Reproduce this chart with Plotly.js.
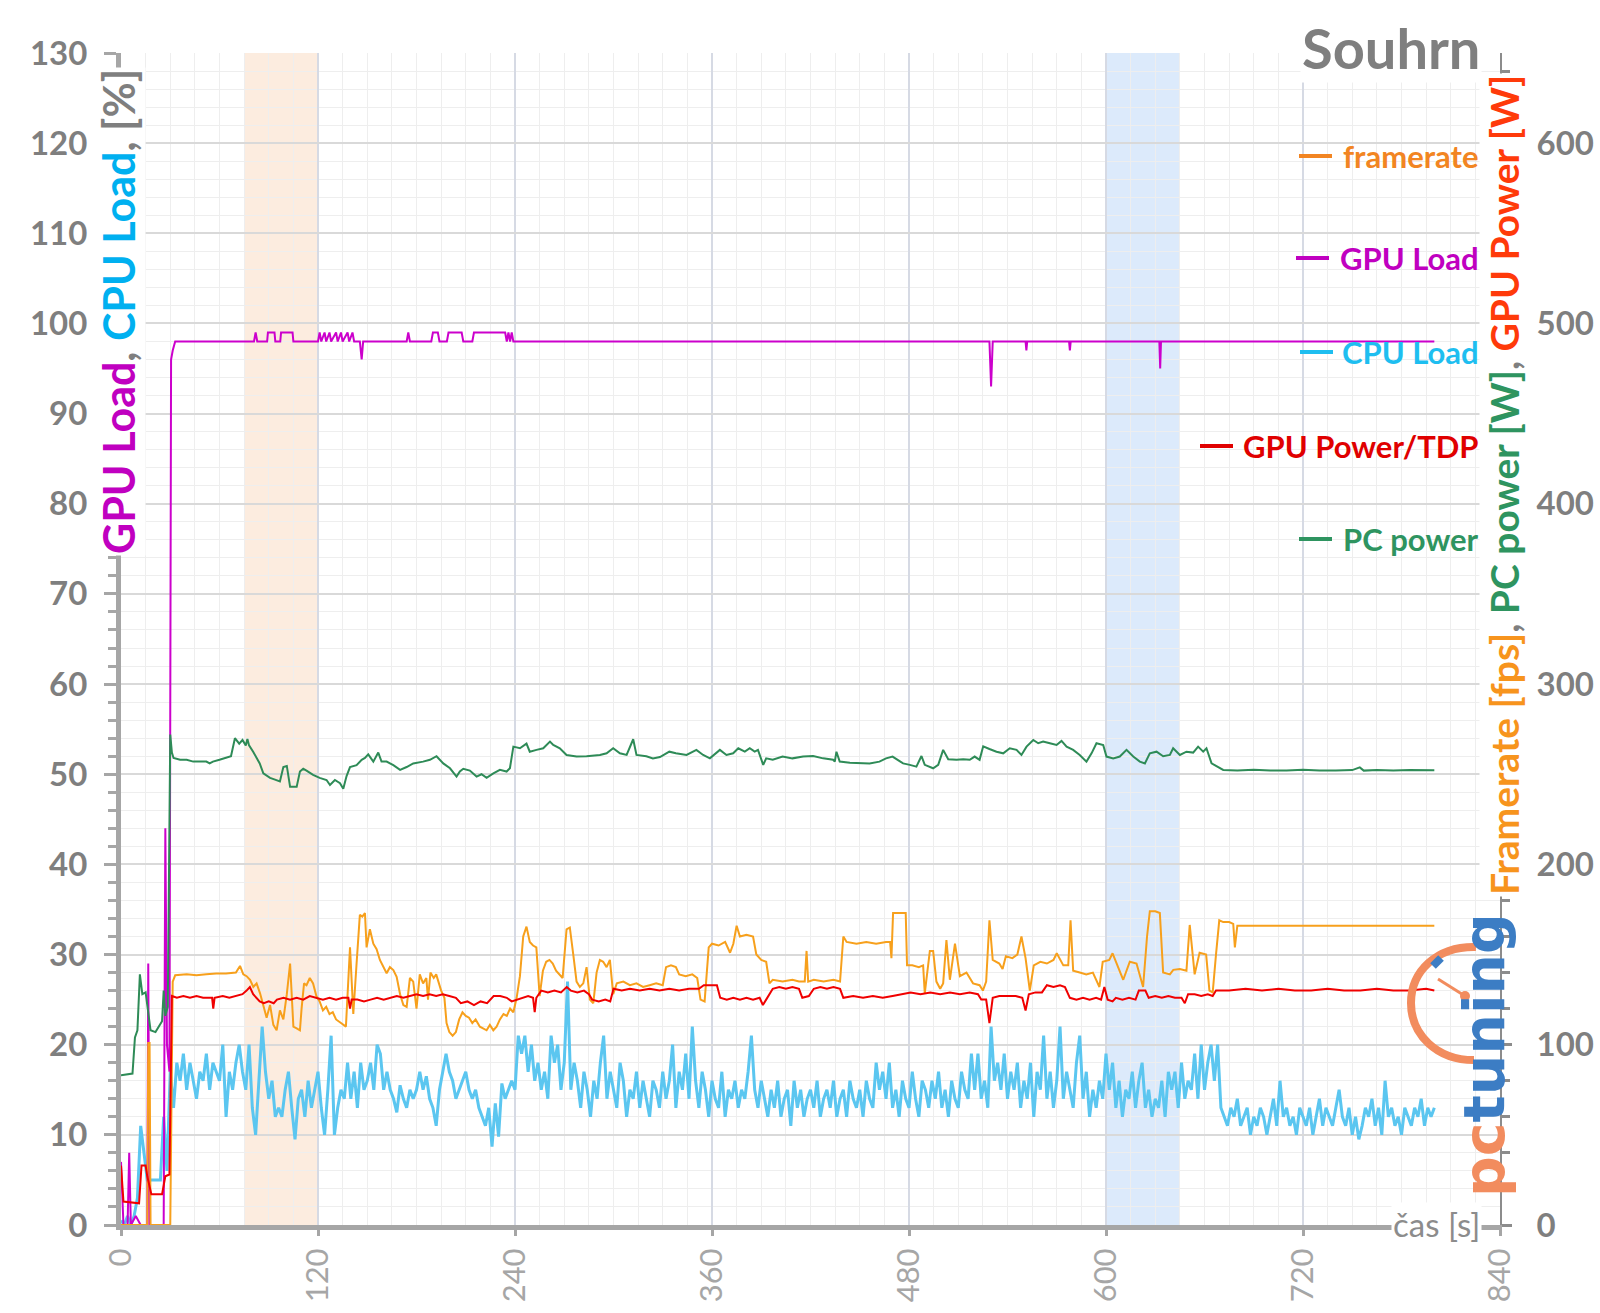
<!DOCTYPE html>
<html><head><meta charset="utf-8">
<script src="https://cdn.plot.ly/plotly-3.0.1.min.js"></script>
<style>html,body{margin:0;padding:0;background:#fff}</style>
</head><body><div id="chart" style="width:1600px;height:1313px"></div>
<script>
// ---------------- DATA ----------------
// x tick labels (s)
const xTicks = [0, 120, 240, 360, 480, 600, 720, 840];
// highlighted intervals (s)
const bandOrange = [75, 120];
const bandBlue = [600, 645];

// GPU Load [%]  [time s, value]
const gpuLoad = [[0,7],[1.5,0],[4,0],[5,8],[6,0],[9,1],[12,0],[16,0],[16.6,29],[17.4,0],[26,0],[27,44],[28,20],[29.5,17],[30.5,96],[31.5,97],[33,98],
[81,98],[82,99],[83,98],[89,98],[89.5,99],[93.5,99],[94,98],[97,98],[97.5,99],[104.5,99],[105,98],[120,98],[121,99],[122,98],[124,99],[125,98],[127,99],[128,98],
[131,99],[132,98],[134,99],[135,98],[138,99],[139,98],[141,99],[142,98],[145.5,98],[146.6,96],[147.5,98],[174,98],[175,99],[176,98],[189,98],[190,99],[193,99],[194,98],
[198.5,98],[199.5,99],[207.5,99],[208.5,98],[214,98],[215,99],[234,99],[235,98],[236,99],[237,98],[238,99],[239,98],
[529,98],[530,93],[531,98],[551,98],[551.5,97],[552,98],[577.5,98],[578,97],[578.5,98],[632.5,98],[633,95],[633.5,98],[800,98]];

// CPU Load [%], one value every 2 s starting at 0 s
const cpuStart = 0, cpuStep = 2;
const cpuLoad = [0.5,0,1,0,1,3,11,8,5,5,5,5,5,12,6,
17,13,18,16,19,15,18,16,14,17,
16,19,15,18,17,16,20,12,17,15,
18,20,17,15,20,13,10,16,22,17,
14,16,12,13,12,15,17,13,9.5,14,
15,12,16,13,15,17,13,10,15,21,
10,13,15,14,18,14,17,13,18,15,
16,18,15,20,19,15,17,15,14,12.5,
15.5,14,13,15,14,15,17,15,16.5,14,13,11,15,17,19,
17,16,14,15,16,17,15,14,15,13,12,11,13,8.7,13.5,9.8,15.7,14,15,16,
15,21,19,21,17,20,16,18,15,17,
14,21,18,20,15,18,27,15,18,16,
13,17,15,12,16,14,18,21,14,17,
15,13,18,16,12,15,14,17,13,16,
14,12,16,15,13,17,14,16,20,13,
17,15,19,14,22,16,13,17,15,12,
16,14,13,17,12,15,14,16,13,15,
14,17,21,15,13,16,14,12,15,13,
16,12,14,15,11,16,13,15,12,14,
15,13,16,12,14,15,13,16,12,14,
15,12,16,14,13,15,12,16,14,13,
18,15,17,14,18,13,15,12,16,14,
13,17,14,12,16,15,13,16,14,17,
13,15,12,16,14,13,17,15,14,19,
15,19,14,16,13,22,16,18,15,19,
14,17,15,18,13,16,14,18,12,17,
15,21,14,17,13,16,22,14,17,15,
13,18,21,14,17,12,15,13,16,14,
19,15,18,13,16,12,15,14,17,13,
16,18,13,15,12,14,13,16,12,17,
15,17,13,18,14,16,15,19,14,20,
15,18,20,16,20,13,12,11,13,12,
14,11,12,13,10,12,11,13,12,10,
12,14,11,16,12,13,11,12,10,13,
12,11,13,10,12,14,11,13,12,11,
13,15,12,11,13,10,12,9.5,11,13,
12,14,11,13,10,16,12,13,11,12,
10,13,12,11,13,12,14,11,13,12,13];

// GPU Power [W]  [time s, value]
const gpuPower = [[0,33],[1.5,13],[11,12],[12.5,33],[15,33],[16,27],[18.5,17],[25,17],[27,27],[29.5,28],[31,127],
[34,126],[38,127],[42,126],[46,127],[50,126],[55.5,126],[56.2,120],[57,126],[62,127],[66,126],[70,127],[74,128],[76.5,130],[78.5,132],[80.5,128],[82.5,126],[84.5,124],
[87,123],[90,124],[93,123],[95,125],[99,126],[103,125],[107,126],[111,125],[115,127],[119,126],[123,125],[127,126],[131,125],[135,126],[138.5,126],[139.5,120],[140.5,125],
[144,125],[148,124],[152,125],[156,126],[160,125],[164,126],[168,127],[172,126],[176,127],[180,128],[184,127],[188,128],[192,127],[196,128],[200,127],[204,126],[207,123],
[211,124],[215,122],[219,124],[223,123],[227,127],[231,127],[235,126],[238,124],[241,125],[244,126],[248,127],[251,126],[252,118],[253,126],[256,130],[260,129],[264,130],
[268,129],[271.5,132],[274,130],[278,129],[282,130],[285,128],[287,125],[291,124],[295,125],[298,124],[300,131],[305,130],[310,131],[316,130],[322,131],[328,130],[334,131],
[340,130],[346,131],[352,131],[355,133],[359,133],[363,133],[365,126],[369,125],[373,126],[377,125],[381,126],[385,125],[389,126],[391,122],[393,125],[397,131],[401,132],
[405,131],[409,132],[413,131],[415,126],[419,127],[422,131],[426,132],[430,131],[434,132],[438,131],[440,126],[446,127],[452,126],[458,127],[464,126],[470,127],[475,128],
[481,129],[487,128],[493,129],[499,128],[505,129],[511,128],[517,129],[522,128],[524,125],[527,125],[529,112],[531,126],[535,127],[540,127],[545,127],[549,126],[551,119],
[553,128],[557,129],[561,129],[564,133],[568,132],[572,133],[575,132],[578,126],[582,125],[586,126],[590,125],[594,126],[597,125],[599,132],[601,125],[604,124],[606,126],
[610,125],[614,126],[618,125],[620,130],[624,130],[626,126],[630,127],[634,126],[638,127],[642,126],[646,126],[648,123],[650,128],[654,128],[658,127],[662,128],[665,127],
[667,130],[675,130],[685,131],[695,130],[705,131],[715,130],[725,130],[735,131],[745,130],[755,130],[765,131],[775,130],[785,130],[795,131],[800,130]];

// PC power [W]  [time s, value]
const pcPower = [[0,83],[7,84],[8.5,104],[10,108],[11.5,139],[13,128],[15,129],[16.5,118],[18,108],[21,107],[23,110],[25,113],[26,130],[27,116],[28.5,121],[30,272],[31,262],
[32,259],[36,258],[40,258],[44,257],[48,257],[52,257],[54,256],[56,257],[60,258],[64,259],[67,260],[69.4,270],[72,267],[74,269],[76,266],[77,269.5],[78,266],[80.5,262.5],
[84.5,256],[86.7,250.5],[90.8,248],[93.8,247],[96.8,246],[98.9,254],[101,254.6],[103,243],[107,243],[109,251.5],[111,253],[113,252],[117,249.6],[121,248],[125.2,246.8],
[127.3,244],[130.3,246.8],[133.4,245],[135.4,242],[137.4,249],[139.5,254],[143.5,255],[146.6,258],[148.6,259],[150.6,261],[153.7,257],[156.7,262],[158.7,257],[161.8,257],
[165.9,255],[170,252.4],[174,254],[178,256],[184,257],[188.2,258],[192.2,260],[196.3,256],[200.4,253.3],[204.4,248.7],[206.4,251.5],[208.5,253],[212.5,252],[216.6,248.7],
[219.6,250],[222.7,248],[226.8,250.5],[230.8,252.4],[234.9,251.5],[236.9,253.3],[239,265.3],[243,264.4],[247,267],[249,262.5],[253.1,263.5],[257.2,264.4],[261.3,268.1],
[263.3,266.2],[267.3,264.4],[271.4,260.7],[277.5,259.8],[283.6,260],[291.7,260.7],[295.8,261.6],[299.8,264.4],[303.9,261.6],[308,260.7],[312,269.4],[314,260.7],[320,260],
[324,258.8],[328.3,259.5],[334,262.5],[338,261.6],[344.5,260.7],[350.5,263.5],[354.6,260.7],[358.7,258.8],[364.8,263.5],[368.8,260.7],[372.9,261.6],[376,264.4],[380,262.5],
[383,264.4],[386,262.5],[388,263.5],[391.2,255.2],[393,258.8],[397,258],[403,259.8],[409,258.8],[415.5,259.8],[421.6,260.1],[427.7,258.8],[433.8,258],[434.8,257],
[435.8,262.5],[437.8,257],[444,256.4],[450,256.4],[456,256],[462,257],[466,258.8],[470,259.8],[473.4,258],[476.4,256],[480.5,255.2],[484.5,254.2],[487.6,260.1],[489.6,255.2],
[494.7,253.3],[497.8,255.2],[500.8,263.5],[503.9,258.3],[509,258],[513,258.3],[517,258],[520,259.8],[523,258],[525.2,265.5],[529,264],[533.3,262.5],[537.4,261.6],
[541.4,264.4],[545.5,263.5],[548.5,260.7],[551.6,265.3],[555.7,269],[558.7,267.2],[561.7,268.1],[565.8,267.2],[569.9,266.2],[572.9,268.5],[576,265.3],[580,263.5],
[584,260.7],[588.1,257],[591.2,261.6],[594.2,267.2],[598.3,266.2],[600.3,259.8],[604.4,258.8],[608.4,259.8],[612.5,263.5],[616.6,259.8],[620.6,257],[623.7,256],
[626.7,261.6],[630.8,262.5],[634.8,260],[638.9,260.7],[640.9,264.4],[645,260.7],[649,262.5],[653.1,262],[656.1,265.3],[659.2,262.5],[661.2,264.4],[664.3,256],[667.3,254.6],
[671.4,252.4],[680,252],[690,252.5],[700,252],[710,252],[720,252.5],[730,252],[740,252],[750,252.3],[754.6,253.8],[757,252],[765,252.3],[775,252],[785,252.3],[795,252],[800,252.2]];

// Framerate [fps]  [time s, value]
const framerate = [[0,0],[16,0],[16.6,101],[17.4,101],[18,0],[30,0],[31.5,135],[33,138.5],[40,139],[46,138.5],[52,139],[58,139.5],[64,139.5],[70,140],[72.5,143.7],[74.5,139],
[76.5,138],[78.6,136],[80.6,132],[82.6,134],[84.7,128.5],[86.7,121],[88.7,115],[90.8,122],[92.8,111],[94.8,108],[96.8,119],[98.9,114],[101,128],[103,145],[104,130],[105,110],
[107,109],[109,108],[110,120],[111.5,134],[113,133],[115,137],[117,134],[119,127],[121,124],[123,119],[125,121],[127,117],[129,118],[131,114],[134,112],[137,110],[139.5,154],
[141.5,117],[143.5,145],[145.5,172],[147,171],[148.6,173],[149.6,154],[151.6,164],[153.7,156],[155.7,153],[157.7,147],[159.8,143],[161.8,139.6],[163.8,143],[165.9,141.4],
[167.9,137.7],[170,128],[172,122],[174,121],[176,137],[178,135],[180,120],[182,139],[184,134],[186,137],[187,125],[188.5,140],[190.5,137],[192,139],[195,130],[197,126],
[198.3,112],[200,107],[202,105],[204,107],[206,114],[208,118],[210,116],[212,115],[214,112],[216,114],[218.6,110],[220.7,109],[222.7,108],[224.7,111],[226.8,108],[228.8,110],
[230.8,114],[233,117],[235,116],[237,120],[239,118],[241,126],[243,138],[245,160],[247,165.5],[249,157],[251,155],[253,154],[255,127],[257,141],[259,146],[261,147],[263,145],
[265,141],[267,139],[269,137],[271.4,164],[273.4,165],[275.5,150],[277.5,135],[279.5,132],[281.6,134],[283.6,143],[285.6,125],[287.7,123],[289.7,140],[291.7,147],[293.7,146],
[295.8,143],[297.8,147],[299.8,128],[302,134],[306,135],[310,133],[314,134],[318,132],[322,133],[326,134],[330,133],[332,143],[335,144],[338,143],[340,139],[344,138],[348,139],
[351,137],[353,125],[355.5,124],[358,154],[360,156],[364,155],[368,157],[371,151],[373,156],[375,166],[377,160],[381,161],[385,160],[387,150],[390,147],[393,146],[395,134],
[397,136],[403,135],[409,136],[413,135],[416.5,135],[417.6,152],[418.6,135],[422,136],[428,135],[434,136],[438,135],[440,160],[442,157],[448,156],[454,157],[460,156],[466,157],
[468.5,157],[469.3,148],[470.3,173],[474,173],[478,173],[478.8,144],[482,144],[486,143],[488.6,144],[489.6,128.5],[491,140],[492.7,152],[494.7,152],[496.7,135],[499,131],
[500.8,134],[502.8,158],[504.9,136],[508,156],[511,138],[515,140],[519,134],[523,133],[525,130],[527,135],[529,169],[531,147],[535,145],[537,142],[539,149],[543,148],[546,150],
[548.5,160],[551,148],[553.6,130],[556,144],[560,146],[564,145],[568,147],[570,150.7],[574,144],[577,144],[578.4,169],[580,141],[584,140],[588,139],[592,140],[596,132],
[598,146],[602,147],[604,150.7],[606,146],[610.5,136],[614.5,146],[618.6,145],[622.6,132],[625,160],[626.7,174],[630,174],[632.8,173],[634.8,140],[638.9,139],[641,141.5],
[645,142],[649,141],[651,166.4],[653,145],[654,139],[657,151],[661,150],[663,130],[665,129],[667,150],[669,169],[671.4,168],[675,168],[677.5,167],[678.5,154],[680,166],
[690,166],[700,166],[720,166],[740,166],[760,166],[780,166],[800,166]];

// ---------------- CHART ----------------
const W = 1600, H = 1313;
const L = 121, R = 1500, T = 53, B = 1225;
const px = x => (x - L) / (R - L);
const py = y => (B - y) / (B - T);

const col = {
  fps: '#F7A01C', gpuLoad: '#CC00CC', cpu: '#5BC6F0', gpuPow: '#F00000', pc: '#2E8B57',
  gray: '#7F7F7F', light: '#A6A6A6'
};

const xs = a => a.map(p => p[0]);
const ys = a => a.map(p => p[1]);

const traces = [
  {name: 'CPU Load', y: cpuLoad, x0: cpuStart, dx: cpuStep, yaxis: 'y', type: 'scatter', mode: 'lines',
   line: {color: col.cpu, width: 3}},
  {name: 'PC power', x: xs(pcPower), y: ys(pcPower), yaxis: 'y2', type: 'scatter', mode: 'lines',
   line: {color: col.pc, width: 2}},
  {name: 'framerate', x: xs(framerate), y: ys(framerate), yaxis: 'y2', type: 'scatter', mode: 'lines',
   line: {color: col.fps, width: 2}},
  {name: 'GPU Power/TDP', x: xs(gpuPower), y: ys(gpuPower), yaxis: 'y2', type: 'scatter', mode: 'lines',
   line: {color: col.gpuPow, width: 2}},
  {name: 'GPU Load', x: xs(gpuLoad), y: ys(gpuLoad), yaxis: 'y', type: 'scatter', mode: 'lines',
   line: {color: col.gpuLoad, width: 2}}
];

// gauge arc of the logo (decoration) in pixel space -> paper
const gc = {x: 1468, y: 1003, r: 57}, k = 0.5523;
const P = (x, y) => px(x).toFixed(5) + ',' + py(y).toFixed(5);
const arcPath = 'M ' + P(gc.x + 8, gc.y - gc.r + 1) +
  ' C ' + P(gc.x - k * gc.r, gc.y - gc.r) + ' ' + P(gc.x - gc.r, gc.y - k * gc.r) + ' ' + P(gc.x - gc.r, gc.y) +
  ' C ' + P(gc.x - gc.r, gc.y + k * gc.r) + ' ' + P(gc.x - k * gc.r, gc.y + gc.r) + ' ' + P(gc.x + 6, gc.y + gc.r);

// legend entries: label, colour, vertical centre and sample-line span (px)
const legendItems = [
  {text: 'framerate', color: '#F28522', y: 156, s0: 1299, s1: 1332},
  {text: 'GPU Load', color: '#C000C0', y: 258, s0: 1296, s1: 1329},
  {text: 'CPU Load', color: '#1EBEF0', y: 352, s0: 1300, s1: 1333},
  {text: 'GPU Power/TDP', color: '#E00000', y: 446, s0: 1200, s1: 1233},
  {text: 'PC power', color: '#2E9460', y: 539, s0: 1299, s1: 1332}
];

const shapes = [
  {type: 'rect', xref: 'x', yref: 'paper', x0: bandOrange[0], x1: bandOrange[1], y0: 0, y1: 1,
   fillcolor: '#FCECDF', line: {width: 0}, layer: 'below'},
  {type: 'rect', xref: 'x', yref: 'paper', x0: bandBlue[0], x1: bandBlue[1], y0: 0, y1: 1,
   fillcolor: '#DCEAFB', line: {width: 0}, layer: 'below'},
  {type: 'path', xref: 'paper', yref: 'paper', path: arcPath, line: {color: '#F28C5E', width: 8}, layer: 'above'},
  {type: 'line', xref: 'paper', yref: 'paper', x0: px(1433), y0: py(966), x1: px(1441), y1: py(958),
   line: {color: '#3C7DC4', width: 8}, layer: 'above'},
  {type: 'line', xref: 'paper', yref: 'paper', x0: px(1465), y0: py(996), x1: px(1438), y1: py(979),
   line: {color: '#F28C5E', width: 3}, layer: 'above'},
  {type: 'circle', xref: 'paper', yref: 'paper', x0: px(1460), y0: py(991), x1: px(1470), y1: py(1001),
   fillcolor: '#F28C5E', line: {width: 0}, layer: 'above'}
].concat(legendItems.map(it => ({
  type: 'line', xref: 'paper', yref: 'paper', x0: px(it.s0), x1: px(it.s1), y0: py(it.y), y1: py(it.y),
  line: {color: it.color, width: 4}, layer: 'above'
})));

const sp = (c, t) => '<span style="color:' + c + '">' + t + '</span>';

const annotations = [
  {text: '<b>Souhrn</b>', xref: 'paper', yref: 'paper', x: px(1482), y: py(47), xanchor: 'right', yanchor: 'middle',
   showarrow: false, bgcolor: '#FFFFFF', font: {family: 'Lato', size: 56, color: col.gray}},
  {text: '<b>' + sp('#C000C0', 'GPU Load') + sp(col.gray, ', ') + sp('#00B0F0', 'CPU Load') + sp(col.gray, ', [%]') + '</b>',
   xref: 'paper', yref: 'paper', x: px(118), y: py(312), textangle: -90, xanchor: 'center', yanchor: 'middle',
   showarrow: false, bgcolor: '#FFFFFF', font: {family: 'Lato', size: 43, color: col.gray}},
  {text: '<b>' + sp('#F7941D', 'Framerate [fps]') + sp(col.gray, ', ') + sp('#2E9460', 'PC power [W]') + sp(col.gray, ', ') + sp('#FF3A0A', 'GPU Power [W]') + '</b>',
   xref: 'paper', yref: 'paper', x: px(1504), y: py(485), textangle: -90, xanchor: 'center', yanchor: 'middle',
   showarrow: false, bgcolor: '#FFFFFF', font: {family: 'Lato', size: 39, color: col.gray}},
  {text: 'čas [s]', xref: 'paper', yref: 'paper', x: px(1482), y: py(1224), xanchor: 'right', yanchor: 'middle',
   showarrow: false, bgcolor: '#FFFFFF', font: {family: 'Lato', size: 33, color: '#8C8C8C'}},
  {text: '<b>' + sp('#F28C5E', 'pc') + sp('#3C7DC4', 'tuning') + '</b>', xref: 'paper', yref: 'paper',
   x: px(1484), y: py(1055), textangle: -90, xanchor: 'center', yanchor: 'middle', showarrow: false,
   font: {family: 'DejaVu Sans', size: 57, color: '#3C7DC4'}}
].concat(legendItems.map(it => ({
  text: '<b>' + it.text + '</b>', xref: 'paper', yref: 'paper', x: px(1481), y: py(it.y),
  xanchor: 'right', yanchor: 'middle', showarrow: false,
  font: {family: 'Lato', size: 31, color: it.color}
})));

const layout = {
  width: W, height: H,
  margin: {l: L, r: W - R, t: T, b: H - B, pad: 0},
  paper_bgcolor: '#FFFFFF', plot_bgcolor: '#FFFFFF',
  showlegend: false,
  xaxis: {
    range: [0, 840], tickvals: xTicks, ticktext: xTicks.map(String), tickangle: -90,
    tickfont: {family: 'Lato', size: 31, color: col.light},
    showline: true, linecolor: '#A6A6A6', linewidth: 5,
    ticks: 'outside', ticklen: 6, tickwidth: 3, tickcolor: '#A6A6A6', ticklabelstandoff: 0,
    showgrid: true, gridcolor: '#D6DAE4', gridwidth: 2, zeroline: false,
    minor: {dtick: 15, tick0: 0, showgrid: true, gridcolor: '#EEEEEE', gridwidth: 1}
  },
  yaxis: {
    range: [0, 130], dtick: 10, tick0: 0,
    tickfont: {family: 'Lato', size: 33, color: col.gray, weight: 700},
    showline: true, linecolor: '#A6A6A6', linewidth: 5,
    ticks: 'outside', ticklen: 12, tickwidth: 3, tickcolor: '#A6A6A6', ticklabelstandoff: 10,
    showgrid: true, gridcolor: '#D9D9D9', gridwidth: 2, zeroline: false,
    minor: {dtick: 2, tick0: 0, showgrid: true, gridcolor: '#EEEEEE', gridwidth: 1,
            ticks: 'outside', ticklen: 8, tickwidth: 3, tickcolor: '#A6A6A6'}
  },
  yaxis2: {
    range: [0, 650], dtick: 100, tick0: 0, overlaying: 'y', side: 'right',
    tickfont: {family: 'Lato', size: 33, color: col.gray, weight: 700},
    showline: true, linecolor: '#8C8C8C', linewidth: 2,
    ticks: 'outside', ticklen: 10, tickwidth: 3, tickcolor: '#8C8C8C', ticklabelstandoff: 18,
    showgrid: false, zeroline: false,
    minor: {dtick: 20, tick0: 0, ticks: 'outside', ticklen: 8, tickwidth: 3, tickcolor: '#8C8C8C', showgrid: false}
  },
  shapes: shapes,
  annotations: annotations
};

Plotly.newPlot('chart', traces, layout, {staticPlot: true, displayModeBar: false});
</script></body></html>
